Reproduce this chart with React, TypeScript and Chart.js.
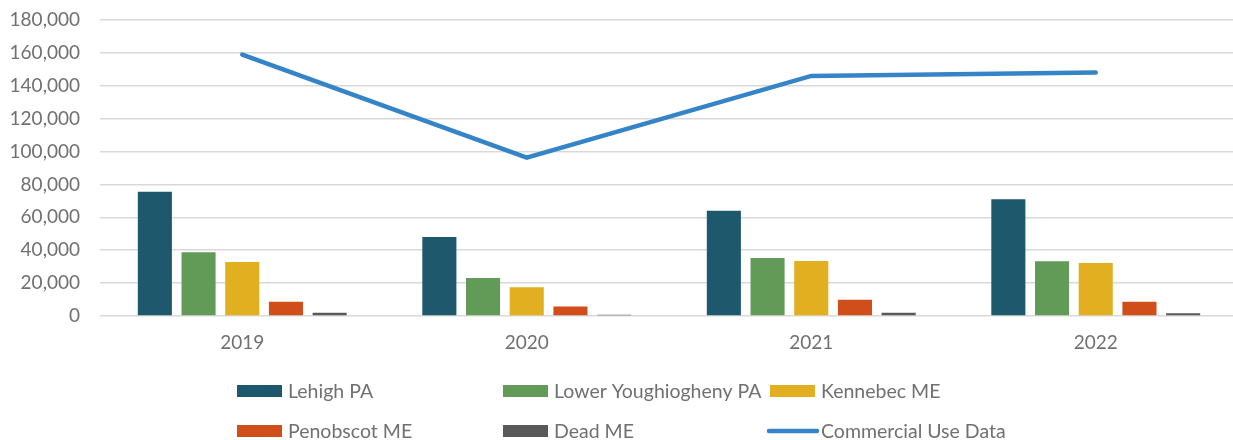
import React, { useEffect, useRef } from "react";
import { Chart, registerables } from "chart.js";

Chart.register(...registerables);

const years = ["2019", "2020", "2021", "2022"];
const lehigh = [75500, 48000, 64000, 71000];
const lowerYough = [38800, 23100, 35300, 33300];
const kennebec = [32900, 17500, 33500, 32300];
const penobscot = [8600, 5800, 9900, 8700];
const dead = [2000, 800, 2000, 1700];
const commercial = [159000, 96300, 146000, 148000];

const FONT = "Lato, 'Open Sans', sans-serif";
const TEXT = "#707070";

const legendPlugin = {
  id: "customLegend",
  afterDraw(chart: any) {
    const ctx = chart.ctx;
    const cols = [237, 503, 770];
    const rows = [391, 431];
    ctx.save();
    ctx.font = `19.5px ${FONT}`;
    ctx.textBaseline = "middle";
    ctx.textAlign = "left";
    chart.data.datasets.forEach((ds: any, i: number) => {
      const x = cols[i % 3];
      const y = rows[Math.floor(i / 3)];
      if (ds.type === "line") {
        ctx.strokeStyle = ds.borderColor;
        ctx.lineWidth = 4.5;
        ctx.lineCap = "round";
        ctx.beginPath();
        ctx.moveTo(x - 1, y);
        ctx.lineTo(x + 47, y);
        ctx.stroke();
      } else {
        ctx.fillStyle = ds.backgroundColor;
        ctx.fillRect(x, y - 6, 45, 12);
      }
      ctx.fillStyle = TEXT;
      ctx.fillText(ds.label, x + 51, y + 1);
    });
    ctx.restore();
  },
};

export default function App() {
  const ref = useRef<HTMLCanvasElement>(null);
  useEffect(() => {
    if (!ref.current) return;
    const barDs = (label: string, data: number[], color: string) => ({
      type: "bar" as const,
      label,
      data,
      backgroundColor: color,
      borderWidth: 0,
      order: 2,
      categoryPercentage: 0.768,
      barPercentage: 0.78,
    });
    const chart = new Chart(ref.current, {
      type: "bar",
      data: {
        labels: years,
        datasets: [
          barDs("Lehigh PA", lehigh, "#1d586d"),
          barDs("Lower Youghiogheny PA", lowerYough, "#619b57"),
          barDs("Kennebec ME", kennebec, "#e2af20"),
          barDs("Penobscot ME", penobscot, "#d04e1a"),
          barDs("Dead ME", dead, "#595959"),
          {
            type: "line" as const,
            label: "Commercial Use Data",
            data: commercial,
            borderColor: "#3584c7",
            backgroundColor: "#3584c7",
            borderWidth: 4.5,
            borderCapStyle: "round",
            borderJoinStyle: "miter",
            pointRadius: 0,
            tension: 0,
            order: 1,
          } as any,
        ],
      },
      options: {
        responsive: false,
        animation: false,
        layout: { padding: { top: 20, right: 2, left: 0, bottom: 0 } },
        plugins: {
          legend: { display: false },
          tooltip: { enabled: false },
        },
        scales: {
          x: {
            grid: { display: false, drawTicks: false },
            border: { display: false },
            ticks: {
              color: TEXT,
              font: { family: FONT, size: 19 },
              padding: 15,
            },
            afterFit(scale: any) {
              scale.height = 124;
            },
          },
          y: {
            min: 0,
            max: 180000,
            ticks: {
              stepSize: 20000,
              color: TEXT,
              font: { family: FONT, size: 19 },
              padding: 20,
              callback: (v: any) => Number(v).toLocaleString("en-US"),
            },
            grid: { color: "#d9d9d9", lineWidth: 1.5, drawTicks: false },
            border: { display: false },
            afterFit(scale: any) {
              scale.width = 100;
              scale.paddingTop = 0;
              scale.paddingBottom = 0;
            },
          },
        },
      },
      plugins: [legendPlugin],
    });
    return () => chart.destroy();
  }, []);
  return (
    <div
      style={{
        position: "fixed",
        left: 0,
        top: 0,
        width: 1233,
        height: 440,
        overflow: "hidden",
        background: "#fff",
      }}
    >
      <canvas ref={ref} width={1240} height={440} />
    </div>
  );
}
